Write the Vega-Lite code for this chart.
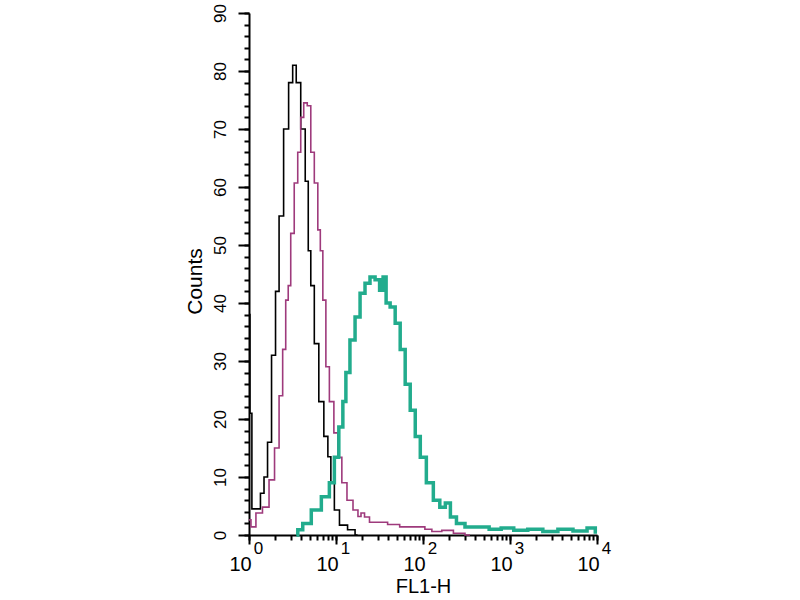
{
  "$schema": "https://vega.github.io/schema/vega-lite/v6.json",
  "width": 348,
  "height": 522,
  "autosize": {"type": "none"},
  "padding": {"left": 249, "top": 13, "right": 203, "bottom": 65},
  "background": "white",
  "config": {"view": {"stroke": null}, "font": "Liberation Sans"},
  "data": {"values": [
    {"s": "control", "x": 1, "y": 38},
    {"s": "control", "x": 1.05, "y": 21},
    {"s": "control", "x": 1.11, "y": 4.5},
    {"s": "control", "x": 1.3, "y": 4.5},
    {"s": "control", "x": 1.41, "y": 7.2},
    {"s": "control", "x": 1.57, "y": 10},
    {"s": "control", "x": 1.7, "y": 16},
    {"s": "control", "x": 1.94, "y": 31},
    {"s": "control", "x": 2.1, "y": 42},
    {"s": "control", "x": 2.34, "y": 55},
    {"s": "control", "x": 2.67, "y": 70},
    {"s": "control", "x": 3.05, "y": 78},
    {"s": "control", "x": 3.31, "y": 81},
    {"s": "control", "x": 3.68, "y": 78},
    {"s": "control", "x": 4.2, "y": 70},
    {"s": "control", "x": 4.67, "y": 61},
    {"s": "control", "x": 4.93, "y": 49},
    {"s": "control", "x": 5.34, "y": 43},
    {"s": "control", "x": 5.94, "y": 33},
    {"s": "control", "x": 6.78, "y": 23},
    {"s": "control", "x": 7.75, "y": 17},
    {"s": "control", "x": 8.39, "y": 13.5},
    {"s": "control", "x": 9.08, "y": 9},
    {"s": "control", "x": 10.1, "y": 4.3},
    {"s": "control", "x": 11.9, "y": 1.7},
    {"s": "control", "x": 15.5, "y": 0.9},
    {"s": "control", "x": 17.7, "y": 0},
    {"s": "isotype", "x": 1, "y": 2.6},
    {"s": "isotype", "x": 1.11, "y": 1.4},
    {"s": "isotype", "x": 1.3, "y": 3.8},
    {"s": "isotype", "x": 1.57, "y": 4.8},
    {"s": "isotype", "x": 1.84, "y": 9.5},
    {"s": "isotype", "x": 2.1, "y": 15},
    {"s": "isotype", "x": 2.34, "y": 24},
    {"s": "isotype", "x": 2.54, "y": 32},
    {"s": "isotype", "x": 2.75, "y": 40.5},
    {"s": "isotype", "x": 2.9, "y": 43},
    {"s": "isotype", "x": 3.14, "y": 52},
    {"s": "isotype", "x": 3.49, "y": 60.7},
    {"s": "isotype", "x": 3.78, "y": 66},
    {"s": "isotype", "x": 4.09, "y": 72},
    {"s": "isotype", "x": 4.43, "y": 74.5},
    {"s": "isotype", "x": 4.93, "y": 74},
    {"s": "isotype", "x": 5.34, "y": 66},
    {"s": "isotype", "x": 5.94, "y": 60.7},
    {"s": "isotype", "x": 6.43, "y": 52.6},
    {"s": "isotype", "x": 6.78, "y": 49},
    {"s": "isotype", "x": 7.35, "y": 40.5},
    {"s": "isotype", "x": 7.96, "y": 29},
    {"s": "isotype", "x": 8.85, "y": 23},
    {"s": "isotype", "x": 10.1, "y": 17.6},
    {"s": "isotype", "x": 10.9, "y": 13.4},
    {"s": "isotype", "x": 12.5, "y": 9},
    {"s": "isotype", "x": 14.3, "y": 6},
    {"s": "isotype", "x": 17.2, "y": 4.3},
    {"s": "isotype", "x": 18.6, "y": 3.2},
    {"s": "isotype", "x": 20.2, "y": 3.8},
    {"s": "isotype", "x": 22.4, "y": 3.1},
    {"s": "isotype", "x": 26.3, "y": 2.2},
    {"s": "isotype", "x": 34.3, "y": 2.2},
    {"s": "isotype", "x": 44.8, "y": 1.8},
    {"s": "isotype", "x": 65, "y": 1.4},
    {"s": "isotype", "x": 99.5, "y": 1.4},
    {"s": "isotype", "x": 111, "y": 1},
    {"s": "isotype", "x": 144, "y": 0.6},
    {"s": "isotype", "x": 188, "y": 0.8},
    {"s": "isotype", "x": 266, "y": 0.3},
    {"s": "isotype", "x": 347, "y": 0},
    {"s": "antibody", "x": 3.5, "y": 0},
    {"s": "antibody", "x": 3.78, "y": 0.9},
    {"s": "antibody", "x": 4.55, "y": 2},
    {"s": "antibody", "x": 5.94, "y": 4.3},
    {"s": "antibody", "x": 7.75, "y": 6.6},
    {"s": "antibody", "x": 9.08, "y": 9},
    {"s": "antibody", "x": 10.1, "y": 13.4},
    {"s": "antibody", "x": 11.5, "y": 18.6},
    {"s": "antibody", "x": 12.5, "y": 23},
    {"s": "antibody", "x": 13.5, "y": 28},
    {"s": "antibody", "x": 15.5, "y": 33.6},
    {"s": "antibody", "x": 17.7, "y": 37.6},
    {"s": "antibody", "x": 20.2, "y": 41.7},
    {"s": "antibody", "x": 23, "y": 43.4},
    {"s": "antibody", "x": 26.3, "y": 44.5},
    {"s": "antibody", "x": 30.1, "y": 44},
    {"s": "antibody", "x": 33.4, "y": 42.2},
    {"s": "antibody", "x": 36.2, "y": 44.5},
    {"s": "antibody", "x": 39.2, "y": 40},
    {"s": "antibody", "x": 44.8, "y": 39.3},
    {"s": "antibody", "x": 51.2, "y": 36.5},
    {"s": "antibody", "x": 58.4, "y": 32},
    {"s": "antibody", "x": 66.7, "y": 26},
    {"s": "antibody", "x": 76.2, "y": 21.5},
    {"s": "antibody", "x": 87.1, "y": 17},
    {"s": "antibody", "x": 99.5, "y": 13.4},
    {"s": "antibody", "x": 120, "y": 9},
    {"s": "antibody", "x": 144, "y": 6},
    {"s": "antibody", "x": 169, "y": 4.8},
    {"s": "antibody", "x": 193, "y": 5.5},
    {"s": "antibody", "x": 221, "y": 3.1},
    {"s": "antibody", "x": 266, "y": 2},
    {"s": "antibody", "x": 347, "y": 1.4},
    {"s": "antibody", "x": 491, "y": 1.4},
    {"s": "antibody", "x": 675, "y": 1.0},
    {"s": "antibody", "x": 929, "y": 1.2},
    {"s": "antibody", "x": 1312, "y": 0.8},
    {"s": "antibody", "x": 1954, "y": 1.0},
    {"s": "antibody", "x": 2911, "y": 0.6},
    {"s": "antibody", "x": 4337, "y": 1.0},
    {"s": "antibody", "x": 6465, "y": 0.7},
    {"s": "antibody", "x": 9140, "y": 1.2},
    {"s": "antibody", "x": 10000, "y": 0.5}
  ]},
  "resolve": {"axis": {"x": "independent", "y": "independent"}},
  "layer": [
    {
      "transform": [{"filter": "datum.s === 'control'"}],
      "mark": {"type": "line", "interpolate": "step", "color": "black", "strokeWidth": 1.6},
      "encoding": {
        "x": {
          "field": "x", "type": "quantitative",
          "scale": {"type": "log", "domain": [1, 10000], "nice": false},
          "axis": {
            "orient": "bottom",
            "title": "FL1-H",
            "titleFontSize": 20, "titleFontWeight": "normal", "titleColor": "black", "titlePadding": 2,
            "values": [1,2,3,4,5,6,7,8,9,10,20,30,40,50,60,70,80,90,100,200,300,400,500,600,700,800,900,1000,2000,3000,4000,5000,6000,7000,8000,9000,10000],
            "labelExpr": "indexof([1,10,100,1000,10000], datum.value) >= 0 ? '10' : ''",
            "labelFontSize": 20, "labelColor": "black", "labelPadding": 14, "labelOffset": -9, "labelOverlap": false, "labelFlush": false,
            "tickSize": 5, "tickColor": "black", "tickWidth": 2,
            "domainColor": "black", "domainWidth": 2, "grid": false
          }
        },
        "y": {
          "field": "y", "type": "quantitative",
          "scale": {"domain": [0, 90], "nice": false},
          "axis": {
            "orient": "left",
            "title": "Counts",
            "titleFontSize": 21, "titleFontWeight": "normal", "titleColor": "black", "titlePadding": 38, "titleY": 268,
            "values": [0,2,4,6,8,10,12,14,16,18,20,22,24,26,28,30,32,34,36,38,40,42,44,46,48,50,52,54,56,58,60,62,64,66,68,70,72,74,76,78,80,82,84,86,88,90],
            "labels": false,
            "tickSize": 5, "tickColor": "black", "tickWidth": 2,
            "domainColor": "black", "domainWidth": 2, "grid": false
          }
        }
      }
    },
    {
      "transform": [{"filter": "datum.s === 'isotype'"}],
      "mark": {"type": "line", "interpolate": "step", "color": "#9e3a7c", "strokeWidth": 1.6},
      "encoding": {
        "x": {
          "field": "x", "type": "quantitative",
          "axis": {
            "orient": "bottom", "title": null,
            "values": [1, 10, 100, 1000, 10000],
            "labelExpr": "datum.value === 1 ? '0' : datum.value === 10 ? '1' : datum.value === 100 ? '2' : datum.value === 1000 ? '3' : '4'",
            "labelFontSize": 17, "labelColor": "black", "labelPadding": -4, "labelOffset": 9, "labelOverlap": false, "labelFlush": false,
            "tickSize": 9, "tickColor": "black", "tickWidth": 2,
            "domain": false, "grid": false
          }
        },
        "y": {
          "field": "y", "type": "quantitative",
          "axis": {
            "orient": "left", "title": null,
            "values": [0,10,20,30,40,50,60,70,80,90],
            "labelAngle": 270, "labelFontSize": 17, "labelColor": "black", "labelPadding": 9,
            "tickSize": 11, "tickColor": "black", "tickWidth": 2,
            "domain": false, "grid": false
          }
        }
      }
    },
    {
      "transform": [{"filter": "datum.s === 'antibody'"}],
      "mark": {"type": "line", "interpolate": "step", "color": "#22ac8d", "strokeWidth": 3.5},
      "encoding": {
        "x": {"field": "x", "type": "quantitative", "axis": null},
        "y": {"field": "y", "type": "quantitative", "axis": null}
      }
    }
  ]
}
